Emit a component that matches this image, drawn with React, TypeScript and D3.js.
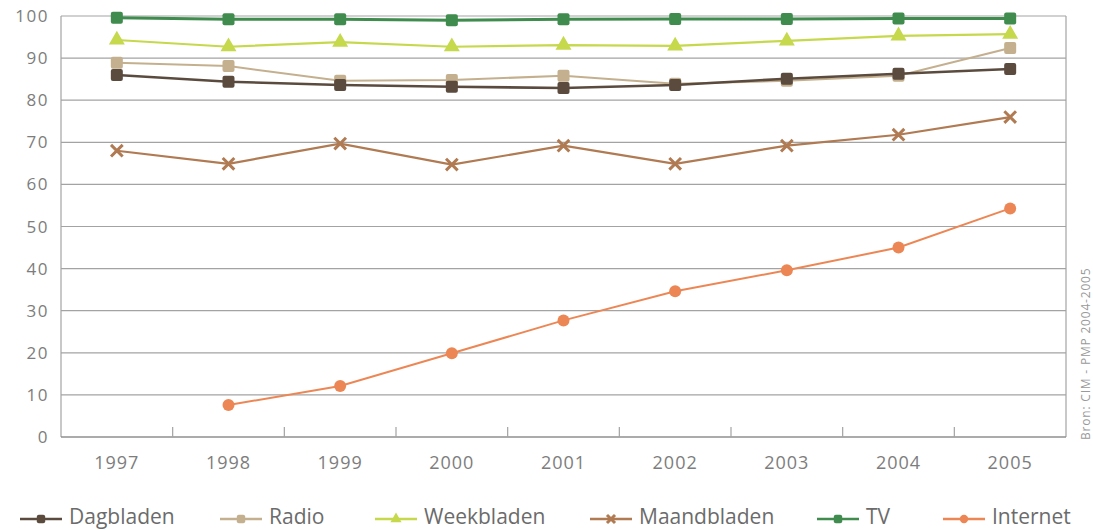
import React, { useEffect, useRef } from 'react';
import * as d3 from 'd3';

const years = ['1997', '1998', '1999', '2000', '2001', '2002', '2003', '2004', '2005'];
const yTicks = [0, 10, 20, 30, 40, 50, 60, 70, 80, 90, 100];

const dagbladen = [86, 84.4, 83.6, 83.2, 82.9, 83.6, 85.1, 86.3, 87.4];
const radio = [88.9, 88.1, 84.6, 84.8, 85.8, 83.9, 84.6, 85.8, 92.4];
const weekbladen = [94.3, 92.7, 93.8, 92.7, 93.1, 92.9, 94.1, 95.3, 95.7];
const maandbladen = [68, 64.9, 69.7, 64.7, 69.2, 64.9, 69.2, 71.8, 76];
const tv = [99.6, 99.2, 99.2, 99.0, 99.2, 99.3, 99.3, 99.4, 99.4];
const internet = [null, 7.6, 12.1, 19.9, 27.7, 34.6, 39.6, 45, 54.3];

type Series = { name: string; values: (number | null)[]; color: string; marker: string; width: number };

const series: Series[] = [
  { name: 'Maandbladen', values: maandbladen, color: '#b07a52', marker: 'x', width: 2.2 },
  { name: 'Radio', values: radio, color: '#c4b08e', marker: 'square', width: 2 },
  { name: 'Dagbladen', values: dagbladen, color: '#5b4b3f', marker: 'square', width: 2.6 },
  { name: 'Weekbladen', values: weekbladen, color: '#c6d84c', marker: 'triangle', width: 2.2 },
  { name: 'TV', values: tv, color: '#3f8c4e', marker: 'square', width: 3 },
  { name: 'Internet', values: internet, color: '#ec8755', marker: 'circle', width: 2 },
];

const legendOrder = ['Dagbladen', 'Radio', 'Weekbladen', 'Maandbladen', 'TV', 'Internet'];
const legendX = [20, 220, 375, 590, 817, 943];

const font = "'Open Sans', sans-serif";

function drawMarker(g: d3.Selection<SVGGElement, unknown, null, undefined>, kind: string, x: number, y: number, color: string, s = 1) {
  if (kind === 'square') {
    g.append('rect').attr('x', x - 6 * s).attr('y', y - 6 * s).attr('width', 12 * s).attr('height', 12 * s).attr('rx', 2).attr('fill', color);
  } else if (kind === 'triangle') {
    g.append('path')
      .attr('d', d3.symbol(d3.symbolTriangle, 110 * s * s)())
      .attr('transform', `translate(${x},${y})`)
      .attr('fill', color);
  } else if (kind === 'circle') {
    g.append('circle').attr('cx', x).attr('cy', y).attr('r', 6 * s).attr('fill', color);
  } else if (kind === 'x') {
    g.append('path')
      .attr('d', d3.symbol(d3.symbolTimes, 90 * s * s)())
      .attr('transform', `translate(${x},${y})`)
      .attr('stroke', color)
      .attr('stroke-width', 3)
      .attr('fill', 'none');
  }
}

export default function App() {
  const svgRef = useRef<SVGSVGElement>(null);
  const width = 1093;
  const height = 530;

  useEffect(() => {
    if (!svgRef.current) return;
    const svg = d3.select(svgRef.current);
    svg.selectAll('*').remove();

    const left = 61;
    const right = 1066;
    const top = 16;
    const bottom = 437;

    const x = d3.scaleBand().domain(years).range([left, right]).paddingInner(0).paddingOuter(0);
    const y = d3.scaleLinear().domain([0, 100]).range([bottom, top]);
    const cx = (d: string) => (x(d) || 0) + x.bandwidth() / 2;

    // grid
    svg.append('g')
      .selectAll('line')
      .data(yTicks.filter((t) => t > 0))
      .enter()
      .append('line')
      .attr('x1', left)
      .attr('x2', right)
      .attr('y1', (d) => y(d))
      .attr('y2', (d) => y(d))
      .attr('stroke', '#a3a3a3')
      .attr('stroke-width', 1.2);

    // frame
    svg.append('line').attr('x1', left).attr('x2', left).attr('y1', top).attr('y2', bottom).attr('stroke', '#a3a3a3').attr('stroke-width', 1.2);
    svg.append('line').attr('x1', right).attr('x2', right).attr('y1', top).attr('y2', bottom).attr('stroke', '#a3a3a3').attr('stroke-width', 1.2);
    svg.append('line').attr('x1', left).attr('x2', right).attr('y1', bottom).attr('y2', bottom).attr('stroke', '#8f8f8f').attr('stroke-width', 1.4);

    // category separator ticks
    svg.append('g')
      .selectAll('line')
      .data(years.slice(1))
      .enter()
      .append('line')
      .attr('x1', (d) => x(d) || 0)
      .attr('x2', (d) => x(d) || 0)
      .attr('y1', bottom - 10)
      .attr('y2', bottom)
      .attr('stroke', '#a3a3a3')
      .attr('stroke-width', 1.2);

    // y labels
    svg.append('g')
      .selectAll('text')
      .data(yTicks)
      .enter()
      .append('text')
      .attr('x', 49)
      .attr('y', (d) => y(d) + 6)
      .attr('text-anchor', 'end')
      .attr('font-family', font)
      .attr('font-size', 17)
      .attr('letter-spacing', 1.5)
      .attr('fill', '#7d7d7d')
      .text((d) => d);

    // x labels
    svg.append('g')
      .selectAll('text')
      .data(years)
      .enter()
      .append('text')
      .attr('x', (d) => cx(d))
      .attr('y', 469)
      .attr('text-anchor', 'middle')
      .attr('font-family', font)
      .attr('font-size', 18)
      .attr('letter-spacing', 1)
      .attr('fill', '#7d7d7d')
      .text((d) => d);

    // lines
    series.forEach((s) => {
      const pts = years
        .map((yr, i) => ({ yr, v: s.values[i] }))
        .filter((p) => p.v !== null) as { yr: string; v: number }[];
      const line = d3.line<{ yr: string; v: number }>().x((p) => cx(p.yr)).y((p) => y(p.v));
      svg.append('path')
        .attr('d', line(pts))
        .attr('fill', 'none')
        .attr('stroke', s.color)
        .attr('stroke-width', s.width);
      const mg = svg.append('g');
      pts.forEach((p) => drawMarker(mg, s.marker, cx(p.yr), y(p.v), s.color));
    });

    // legend
    const lg = svg.append('g');
    legendOrder.forEach((name, i) => {
      const s = series.find((d) => d.name === name)!;
      const lx = legendX[i];
      const ly = 519;
      lg.append('line').attr('x1', lx).attr('x2', lx + 42).attr('y1', ly).attr('y2', ly).attr('stroke', s.color).attr('stroke-width', 2.5);
      const mgl = lg.append('g');
      drawMarker(mgl, s.marker, lx + 21, ly, s.color, 0.7);
      lg.append('text')
        .attr('x', lx + 49)
        .attr('y', 524)
        .attr('font-family', font)
        .attr('font-size', 21)
        .attr('fill', '#6b6b6b')
        .text(name);
    });

    // source
    svg.append('text')
      .attr('transform', 'translate(1090,440) rotate(-90)')
      .attr('font-family', font)
      .attr('font-size', 12)
      .attr('letter-spacing', 0.8)
      .attr('fill', '#9a9a9a')
      .text('Bron: CIM - PMP 2004-2005');
  }, []);

  return (
    <svg
      ref={svgRef}
      width={width}
      height={height}
      style={{ position: 'absolute', left: 0, top: 0, background: '#fff' }}
    />
  );
}
